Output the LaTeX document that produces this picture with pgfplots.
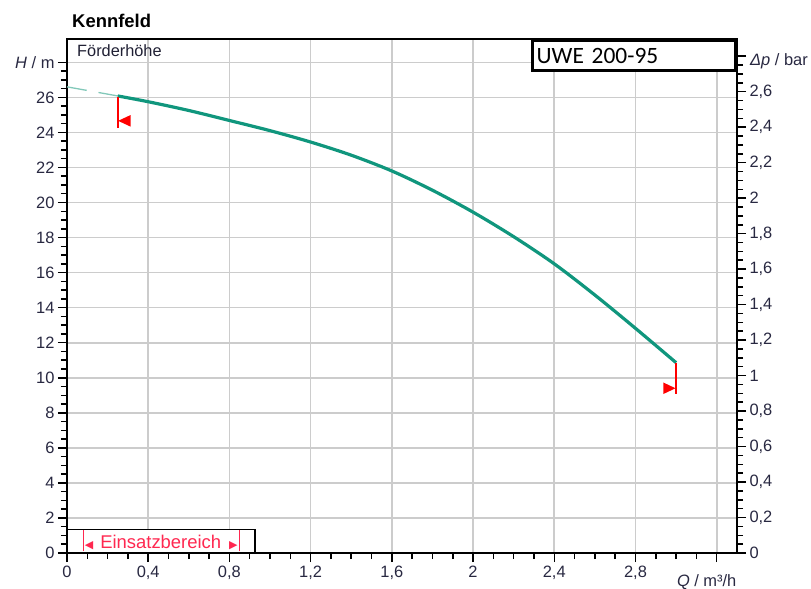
\documentclass[border=0pt]{standalone}
\usepackage{fontspec}
\setmainfont{Liberation Sans}
\newfontfamily\calibri{Carlito}
\newfontfamily\dejavu{DejaVu Sans}
\usepackage{pgfplots}
\pgfplotsset{compat=1.18}
\definecolor{curvec}{RGB}{16,150,125}
\definecolor{dashc}{RGB}{130,200,185}
\definecolor{gridc}{RGB}{204,204,204}
\definecolor{tickc}{RGB}{40,40,65}
\definecolor{einsatz}{RGB}{255,40,80}
\pgfplotsset{every tick/.style={black, line width=1.5bp}}
\begin{document}
\begin{tikzpicture}
% grid and frame
\begin{axis}[
  scale only axis, width=670bp, height=514bp,
  xmin=0, xmax=3.3, ymin=0, ymax=29.33,
  xtick={0,0.4,0.8,1.2,1.6,2,2.4,2.8,3.2},
  ytick={0,2,4,6,8,10,12,14,16,18,20,22,24,26,28},
  xticklabels={}, yticklabels={},
  major tick length=0pt, minor tick num=0,
  grid=major, major grid style={gridc, line width=1.6bp},
  axis line style={black, line width=1.8bp},
]
\coordinate (SW) at (rel axis cs:0,0);
\coordinate (NE) at (rel axis cs:1,1);
\end{axis}
% main axis with ticks
\begin{axis}[
  scale only axis, width=670bp, height=514bp,
  xmin=0, xmax=3.3, ymin=0, ymax=29.33,
  axis x line*=bottom, axis y line*=left,
  xtick={0,0.4,0.8,1.2,1.6,2,2.4,2.8,3.2},
  xticklabels={0,{0,4},{0,8},{1,2},{1,6},2,{2,4},{2,8},{}},
  ytick={0,2,4,6,8,10,12,14,16,18,20,22,24,26,28},
  yticklabels={0,2,4,6,8,10,12,14,16,18,20,22,24,26,{\textit{H} / m}},
  minor x tick num=3, minor y tick num=3,
  tick align=outside,
  major tick length=9bp, minor tick length=6bp,
  ticklabel style={font=\color{tickc}\fontsize{16.5}{17}\selectfont},
  clip mode=individual,
]
\addplot[dashc, line width=1.3bp, dash pattern=on 20bp off 12bp] coordinates {(0,26.6) (0.25,26.08)};
\addplot[curvec, line width=3.2bp, smooth] coordinates {
(0.25,26.08) (0.4,25.75) (0.6,25.25) (0.8,24.68) (1.0,24.1) (1.2,23.45)
(1.4,22.7) (1.6,21.8) (1.8,20.7) (2.0,19.45) (2.2,18.05) (2.4,16.5)
(2.6,14.72) (2.8,12.82) (3.0,10.86)};
\addplot[draw=red, line width=1.6bp] coordinates {(0.25,26.0) (0.25,24.25)};
\addplot[draw=none, fill=red] coordinates {(0.252,24.66) (0.313,24.99) (0.313,24.33) (0.252,24.66)};
\addplot[draw=red, line width=1.6bp] coordinates {(3.0,10.86) (3.0,9.07)};
\addplot[draw=none, fill=red] coordinates {(2.997,9.4) (2.937,9.73) (2.937,9.07) (2.997,9.4)};
\node[anchor=base west, inner sep=0, text=tickc!80!black, font=\fontsize{16.4}{17}\selectfont]
  at ([xshift=10bp, yshift=-17.5bp]rel axis cs:0,1) {Förderhöhe};
\node[anchor=base west, inner sep=0, font=\bfseries\fontsize{18.5}{19}\selectfont]
  at ([xshift=5bp, yshift=11bp]rel axis cs:0,1) {Kennfeld};
\node[draw=black, line width=1.5bp, fill=white, anchor=south west, minimum width=187bp,
  minimum height=23bp, inner sep=0, font=\fontsize{18.5}{19}\selectfont, text=einsatz]
  at (rel axis cs:0,0) {\rule[-2.7bp]{1.3bp}{21bp}\hspace{1bp}{\dejavu\fontsize{11}{11}\selectfont ◀}\hspace{7bp}Einsatzbereich\hspace{8bp}{\dejavu\fontsize{11}{11}\selectfont ▶}\hspace{1bp}\rule[-2.7bp]{1.3bp}{21bp}\hspace{10bp}};
\node[anchor=base, inner sep=0, text=tickc, font=\fontsize{16.5}{17}\selectfont]
  at ([xshift=-10bp, yshift=-33bp]axis cs:3.2,0) {\textit{Q} / m³/h};
\end{axis}
% right axis
\begin{axis}[
  scale only axis, width=670bp, height=514bp,
  xmin=0, xmax=3.3, ymin=0, ymax=2.897,
  axis x line*=top, axis y line*=right,
  xtick=\empty,
  ytick={0,0.2,0.4,0.6,0.8,1,1.2,1.4,1.6,1.8,2,2.2,2.4,2.6,2.8},
  yticklabels={0,{0,2},{0,4},{0,6},{0,8},1,{1,2},{1,4},{1,6},{1,8},2,{2,2},{2,4},{2,6},{}},
  minor y tick num=3, tick align=outside,
  major tick length=9bp, minor tick length=6bp,
  ticklabel style={font=\color{tickc}\fontsize{16.5}{17}\selectfont},
  clip mode=individual,
]
\node[draw=black, line width=2.7bp, fill=white, anchor=north east, minimum height=30.5bp,
  text width=195bp, inner xsep=4bp, align=left, font=\calibri\fontsize{23.5}{24}\selectfont]
  at (rel axis cs:1,1) {UWE 200-95};
\node[anchor=west, inner sep=0, text=tickc, font=\fontsize{16.5}{17}\selectfont]
  at ([xshift=13bp]axis cs:3.3,2.77) {\textit{Δp} / bar};
\end{axis}
\pgfresetboundingbox
\path ([shift={(-67bp,-36bp)}]SW) rectangle ([shift={(74bp,39bp)}]NE);
\end{tikzpicture}
\end{document}
